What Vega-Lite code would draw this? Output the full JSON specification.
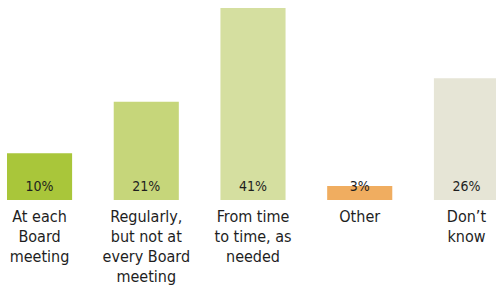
{
  "$schema": "https://vega.github.io/schema/vega-lite/v6.json",
  "width": 489,
  "height": 200,
  "autosize": {"type": "none"},
  "padding": {"left": 7, "top": 0, "right": 0, "bottom": 85},
  "background": "white",
  "config": {"view": {"stroke": null}},
  "data": {
    "values": [
      {"cat": "At each|Board|meeting", "pct": 10, "label": "10%", "color": "c1"},
      {"cat": "Regularly,|but not at|every Board|meeting", "pct": 21, "label": "21%", "color": "c2"},
      {"cat": "From time|to time, as|needed", "pct": 41, "label": "41%", "color": "c3"},
      {"cat": "Other", "pct": 3, "label": "3%", "color": "c4"},
      {"cat": "Don’t|know", "pct": 26, "label": "26%", "color": "c5"}
    ]
  },
  "encoding": {
    "x": {
      "field": "cat", "type": "nominal", "sort": null,
      "scale": {"range": [0, 492], "paddingInner": 0.39, "paddingOuter": 0},
      "axis": {
        "title": null, "labelAngle": 0, "ticks": false, "domain": false,
        "labelExpr": "split(datum.label, '|')",
        "labelFont": "DejaVu Sans Condensed, Roboto, sans-serif", "labelFontSize": 16,
        "labelLineHeight": 20, "labelColor": "#1e1e1e", "labelPadding": 8,
        "labelBaseline": "top"
      }
    }
  },
  "layer": [
    {
      "mark": {"type": "bar"},
      "encoding": {
        "y": {"field": "pct", "type": "quantitative", "scale": {"domain": [0, 42.7], "nice": false}, "axis": null},
        "color": {
          "field": "color", "type": "nominal", "legend": null,
          "scale": {"domain": ["c1", "c2", "c3", "c4", "c5"], "range": ["#a9c63a", "#c6d67a", "#d5dfa0", "#f0ad60", "#e6e5d6"]}
        }
      }
    },
    {
      "mark": {"type": "text", "baseline": "alphabetic", "dy": -9, "font": "DejaVu Sans Condensed, Roboto, sans-serif", "fontSize": 14, "color": "#1e1e1e"},
      "encoding": {
        "y": {"datum": 0, "type": "quantitative"},
        "text": {"field": "label"}
      }
    }
  ]
}
